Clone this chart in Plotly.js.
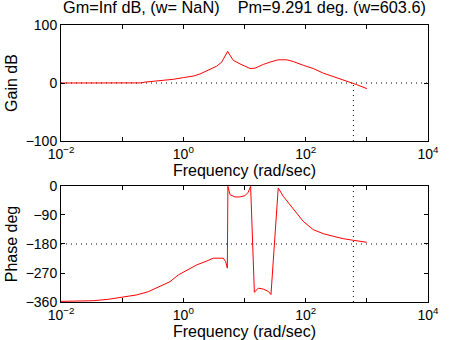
<!DOCTYPE html>
<html>
<head>
<meta charset="utf-8">
<script src="https://cdn.plot.ly/plotly-3.0.1.min.js"></script>
<style>html,body{margin:0;padding:0;background:#fff;}#chart{width:475px;height:340px;}</style>
</head>
<body>
<div id="chart"></div>
<script>
// Gain (magnitude) curve: frequency (rad/sec) and dB
const gainFreq = [0.01, 0.05, 0.1, 0.2, 0.236, 0.52, 0.686, 1.0, 1.46, 1.87, 2.56, 3.51, 4.24, 4.8, 5.31, 5.79, 6.56, 8.44, 12.3, 14.8, 17.9, 20.3, 26.1, 35.6, 49, 62.8, 91.5, 133, 194, 321, 530, 682, 1000];
const gainDb   = [0, 0, 0, 0.2, 1.5, 4.6, 6.4, 9.3, 12, 15.5, 22, 29, 36, 45, 54.6, 48, 39, 33, 25, 25.5, 30, 32, 36, 40, 40, 37, 30.5, 25, 17, 9.3, 0.7, -2.8, -9.7];

// Phase curve: frequency (rad/sec) and degrees
const phaseFreq = [0.01, 0.0116, 0.0337, 0.0593, 0.104, 0.173, 0.267, 0.415, 0.605, 0.828, 1.135, 1.65, 2.41, 3.09, 4.5, 4.93, 5.24, 5.35, 5.8, 7.0, 8.44, 10.2, 11.5, 12.6, 14.5, 16.8, 20.3, 24.5, 27.1, 35.6, 43, 55.4, 71.3, 91.5, 133, 194, 282, 412, 600, 875, 1000];
const phaseDeg  = [-358, -358, -356, -351.6, -345.4, -338, -328, -312.5, -297, -276, -263, -245, -233, -224, -224, -235, -255, -1, -27, -34, -34, -30, -19.5, -1, -330, -317, -320, -327, -337, -6, -32, -58, -84, -110, -135.5, -148, -156, -163.5, -168.5, -171.7, -174.7];

// Margins reported in the title
const gainMarginText = "Inf";
const gainCrossFreqText = "NaN";
const phaseMargin = 9.291;
const phaseCrossFreq = 603.6;

// Axis ticks
const freqTickVals = [0.01, 0.1, 1, 10, 100, 1000, 10000];
const freqTickText = ["10<sup>\u22122</sup>", "", "10<sup>0</sup>", "", "10<sup>2</sup>", "", "10<sup>4</sup>"];
const gainTickVals = [-100, 0, 100];
const phaseTickVals = [-360, -270, -180, -90, 0];
const freqRange = [0.01, 10000];
const gainRange = [-100, 100];
const phaseRange = [-360, 0];
const phaseRef = -180;
const gainRef = 0;

const dotted = {color: '#000', width: 1, dash: '1px,4px'};
const red = {color: '#ff0000', width: 1};

const traces = [
  {x: freqRange, y: [gainRef, gainRef], xaxis: 'x', yaxis: 'y', mode: 'lines', line: dotted},
  {x: [phaseCrossFreq, phaseCrossFreq], y: [gainRange[0], gainRef], xaxis: 'x', yaxis: 'y', mode: 'lines', line: dotted},
  {x: freqRange, y: [phaseRef, phaseRef], xaxis: 'x2', yaxis: 'y2', mode: 'lines', line: dotted},
  {x: [phaseCrossFreq, phaseCrossFreq], y: phaseRange, xaxis: 'x2', yaxis: 'y2', mode: 'lines', line: dotted},
  {x: gainFreq, y: gainDb, xaxis: 'x', yaxis: 'y', mode: 'lines', line: red},
  {x: phaseFreq, y: phaseDeg, xaxis: 'x2', yaxis: 'y2', mode: 'lines', line: red}
];

const FAM = 'Liberation Sans, Arial, sans-serif';

function xAxis(anchor) {
  return {
    type: 'log', range: [Math.log10(freqRange[0]), Math.log10(freqRange[1])], anchor: anchor,
    tickmode: 'array', tickvals: freqTickVals, ticktext: freqTickText,
    ticks: 'inside', ticklen: 4, tickcolor: '#000', tickwidth: 1,
    showline: true, linecolor: '#000', linewidth: 1, mirror: 'ticks',
    showgrid: false, zeroline: false, tickfont: {family: FAM, size: 14, color: '#000'},
    title: {text: 'Frequency (rad/sec)', font: {family: FAM, size: 16, color: '#000'}, standoff: 0}
  };
}
function yAxis(anchor, range, vals, domain, title) {
  return {
    range: range, anchor: anchor, domain: domain,
    tickmode: 'array', tickvals: vals,
    ticks: 'inside', ticklen: 4, tickcolor: '#000', tickwidth: 1,
    showline: true, linecolor: '#000', linewidth: 1, mirror: 'ticks',
    showgrid: false, zeroline: false, tickfont: {family: FAM, size: 14, color: '#000'},
    title: {text: title, font: {family: FAM, size: 16, color: '#000'}, standoff: 4}
  };
}

const titleText = 'Gm=' + gainMarginText + ' dB, (w= ' + gainCrossFreqText + ')\u00a0\u00a0\u00a0\u00a0Pm=' +
  phaseMargin + ' deg. (w=' + phaseCrossFreq + ')';

const layout = {
  width: 475, height: 340,
  margin: {l: 61, r: 47, t: 25, b: 38, pad: 0},
  paper_bgcolor: '#fff', plot_bgcolor: '#fff',
  showlegend: false,
  font: {family: FAM, size: 14, color: '#000'},
  title: {text: titleText, font: {family: FAM, size: 16.3, color: '#000'}, x: 0.5, xref: 'paper', xanchor: 'center',
          y: 1 - 7/340, yref: 'container', yanchor: 'middle', pad: {t: 0, b: 0, l: 0, r: 0}},
  xaxis: xAxis('y'),
  yaxis: yAxis('x', gainRange, gainTickVals, [0.5812, 1], 'Gain dB'),
  xaxis2: xAxis('y2'),
  yaxis2: yAxis('x2', phaseRange, phaseTickVals, [0, 0.4188], 'Phase deg')
};

Plotly.newPlot('chart', traces, layout, {staticPlot: true, displayModeBar: false});
</script>
</body>
</html>
